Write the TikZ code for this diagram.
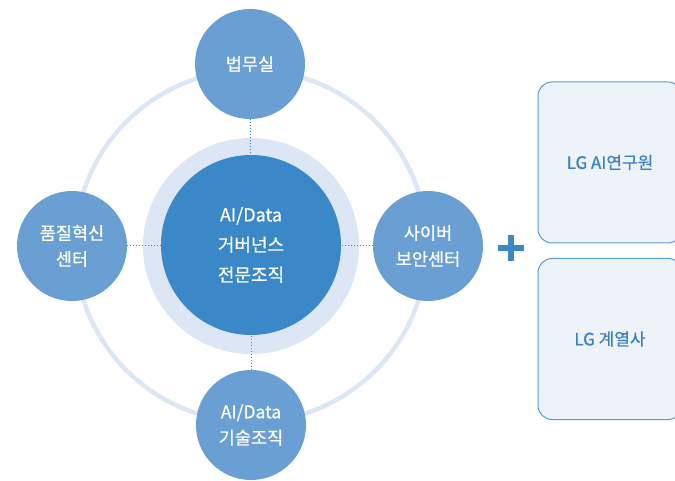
\documentclass[tikz,border=0pt]{standalone}
\usepackage{fontspec}
\setmainfont{Noto Sans CJK KR}[FakeBold=0.6]
\definecolor{ringc}{HTML}{DDE6F3}
\definecolor{haloc}{HTML}{DCE6F4}
\definecolor{corec}{HTML}{3A88C8}
\definecolor{satc}{HTML}{6A9FD4}
\definecolor{dotc}{HTML}{3E8ACB}
\definecolor{boxfill}{HTML}{EEF3FA}
\definecolor{boxline}{HTML}{5B9BD5}
\definecolor{boxtext}{HTML}{3A80C4}
\tikzset{
  sat/.style={circle, fill=satc, minimum size=110pt, inner sep=0pt, text=white,
    font=\fontsize{17.5pt}{26pt}\selectfont, align=center},
  halo/.style={circle, fill=haloc, minimum size=216pt, inner sep=0pt},
  core/.style={circle, fill=corec, minimum size=180pt, inner sep=0pt, text=white,
    font=\fontsize{18pt}{30pt}\selectfont, align=center},
  link/.style={dotc, dotted, line width=1pt},
  orgbox/.style={draw=boxline, fill=boxfill, line width=1pt, rounded corners=14pt,
    minimum width=144pt, minimum height=161pt, inner sep=0pt, text=boxtext,
    font=\fontsize{17pt}{20pt}\selectfont}
}
\begin{document}
\begin{tikzpicture}[x=1pt,y=-1pt]
\useasboundingbox (0,0) rectangle (675,481);
\draw[ringc, line width=4.5pt] (251,246) circle[radius=176pt];
\node[sat] (top) at (250,64) {법무실};
\node[sat] (left) at (72,246) {품질혁신\\센터};
\node[sat] (right) at (428,246) {사이버\\보안센터};
\node[sat] (bottom) at (251,425) {AI/Data\\기술조직};
\node[halo] (halo) at (251,246) {};
\draw[link] (top) -- (halo.center);
\draw[link] (left) -- (halo.center);
\draw[link] (right) -- (halo.center);
\draw[link] (bottom) -- (halo.center);
\node[core] (core) at (251,245) {AI/Data\\거버넌스\\전문조직};
\draw[corec, line width=5.5pt] (498,248) -- (524,248);
\draw[corec, line width=5.5pt] (511,235) -- (511,261);
\node[orgbox] (lgai) at (610,162.5) {LG AI연구원};
\node[orgbox] (lgaff) at (610,339) {LG 계열사};
\end{tikzpicture}
\end{document}
